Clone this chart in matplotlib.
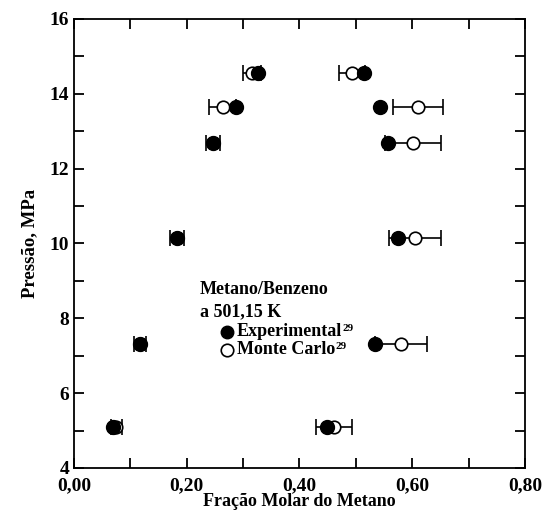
import numpy as np
import matplotlib
matplotlib.use('Agg')
import matplotlib.pyplot as plt
from matplotlib.ticker import MultipleLocator, FuncFormatter
from matplotlib.transforms import offset_copy

# pressure levels (MPa), each has a liquid and a vapour branch
pressao = [14.56, 13.65, 12.69, 10.15, 7.32, 5.10]

# experimental mole fractions
exp_liq = [0.326, 0.287, 0.247, 0.183, 0.117, 0.069]
exp_vap = [0.514, 0.543, 0.557, 0.575, 0.534, 0.448]

# Monte Carlo mole fractions and error bars
mc_liq = [0.316, 0.264, 0.247, 0.183, 0.117, 0.075]
mc_liq_err = [0.016, 0.024, 0.012, 0.012, 0.010, 0.010]
mc_vap = [0.493, 0.610, 0.601, 0.605, 0.580, 0.462]
mc_vap_err = [0.023, 0.044, 0.050, 0.046, 0.046, 0.032]

plt.rcParams['font.family'] = ['Liberation Serif', 'DejaVu Serif']
plt.rcParams['font.weight'] = 'bold'

fig = plt.figure(figsize=(5.44, 5.15), dpi=100)
ax = fig.add_axes([0.136, 0.0913, 0.829, 0.872])

for xs, es in [(mc_liq, mc_liq_err), (mc_vap, mc_vap_err)]:
    ax.errorbar(xs, pressao, xerr=es, fmt='o', mfc='white', mec='black',
                ecolor='black', ms=9, mew=1.2, elinewidth=1.2, capsize=6,
                capthick=1.2, zorder=2)
for xs in [exp_liq, exp_vap]:
    ax.plot(xs, pressao, 'o', color='black', ms=10, zorder=3)

ax.set_xlim(0, 0.8)
ax.set_ylim(4, 16)
ax.xaxis.set_major_locator(MultipleLocator(0.2))
ax.xaxis.set_minor_locator(MultipleLocator(0.1))
ax.yaxis.set_major_locator(MultipleLocator(2))
ax.yaxis.set_minor_locator(MultipleLocator(1))
ax.xaxis.set_major_formatter(FuncFormatter(lambda v, p: f'{v:.2f}'.replace('.', ',')))
ax.tick_params(which='both', direction='in', top=True, right=True,
               length=7, width=1.3, labelsize=14)
ax.tick_params(axis='x', pad=7)
for s in ax.spines.values():
    s.set_linewidth(1.3)

ax.set_xlabel('Fração Molar do Metano', fontsize=13, fontweight='bold', labelpad=-1)
ax.set_ylabel('Pressão, MPa', fontsize=13.5, fontweight='bold', labelpad=8)

# legend block drawn by hand to keep the two-line title
ax.text(0.2235, 8.76, 'Metano/Benzeno', fontsize=13, fontweight='bold', va='center')
ax.text(0.2235, 8.17, 'a 501,15 K', fontsize=13, fontweight='bold', va='center')
ax.plot([0.271], [7.64], 'o', color='black', ms=9)
ax.plot([0.271], [7.16], 'o', mfc='white', mec='black', ms=9, mew=1.2)
t1 = ax.text(0.289, 7.64, 'Experimental', fontsize=13, fontweight='bold', va='center')
t2 = ax.text(0.289, 7.16, 'Monte Carlo', fontsize=13, fontweight='bold', va='center')

# small superscript reference numbers after each label
fig.canvas.draw()
inv = ax.transData.inverted()
for t in [t1, t2]:
    bb = t.get_window_extent()
    x_end, _ = inv.transform((bb.x1, bb.y1))
    ax.text(x_end, t.get_position()[1], '29', fontsize=8, fontweight='bold',
            va='bottom', ha='left',
            transform=offset_copy(ax.transData, fig=fig, x=0.2, y=-1, units='points'))

fig.savefig('out.png', dpi=100)
